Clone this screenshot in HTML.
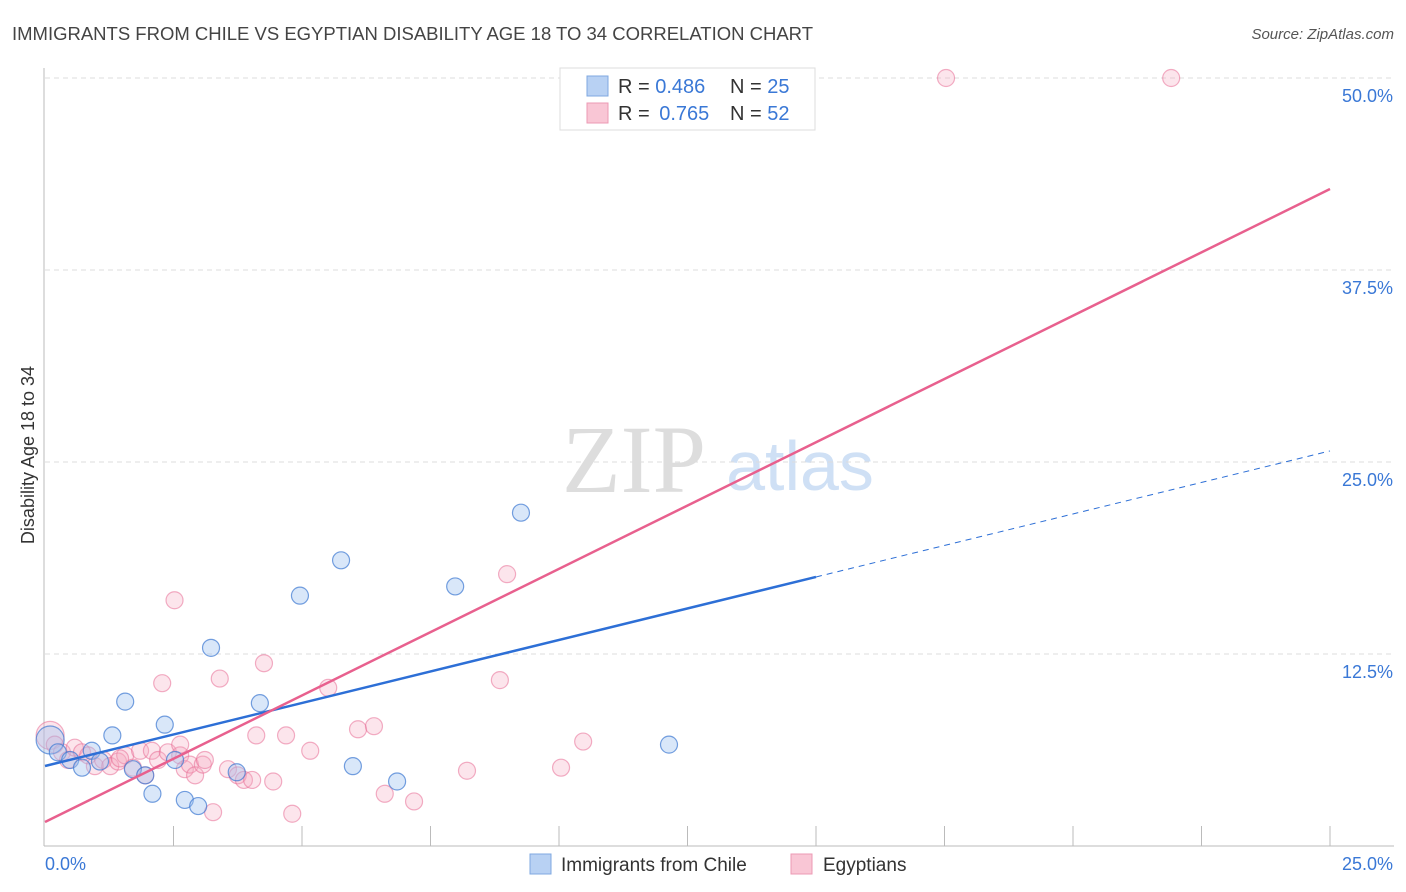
<!DOCTYPE html>
<html><head><meta charset="utf-8"><style>
body{margin:0;background:#fff;font-family:"Liberation Sans",sans-serif;}
svg{display:block}
</style></head><body>
<svg id="c" width="1406" height="892">
<text x="12" y="40" font-size="18.5" fill="#444" textLength="801">IMMIGRANTS FROM CHILE VS EGYPTIAN DISABILITY AGE 18 TO 34 CORRELATION CHART</text>
<text x="1394" y="39" font-size="15" fill="#555" font-style="italic" text-anchor="end">Source: ZipAtlas.com</text>
<text x="634" y="492" font-size="96" fill="#ddd" font-family="Liberation Serif,serif" text-anchor="middle">ZIP</text>
<text x="800" y="490" font-size="70" fill="#cfe0f5" text-anchor="middle">atlas</text>
<text transform="translate(34,455) rotate(-90)" font-size="18" fill="#333" text-anchor="middle">Disability Age 18 to 34</text>
<g id="grid"></g><g id="pts"></g><g id="lines"></g>
<text x="45" y="870" font-size="18" fill="#3a78d6">0.0%</text>
<text x="1393" y="870" font-size="18" fill="#3a78d6" text-anchor="end">25.0%</text>
<g>
<rect x="560" y="68" width="255" height="62" fill="#fff" stroke="#ddd"/>
<rect x="587" y="76" width="21" height="20" fill="#b8d1f3" stroke="#7fa8e0"/>
<rect x="587" y="103" width="21" height="20" fill="#f9c6d5" stroke="#ec9ab4"/>
<text x="618" y="93" font-size="20" fill="#333">R = <tspan fill="#3a78d6">0.486</tspan><tspan x="730">N = </tspan><tspan fill="#3a78d6">25</tspan></text>
<text x="618" y="120" font-size="20" fill="#333">R = <tspan fill="#3a78d6" dx="4">0.765</tspan><tspan x="730">N = </tspan><tspan fill="#3a78d6">52</tspan></text>
</g>
<g>
<rect x="530" y="854" width="21" height="20" fill="#b8d1f3" stroke="#7fa8e0"/>
<text x="561" y="871" font-size="19" fill="#333">Immigrants from Chile</text>
<rect x="791" y="854" width="21" height="20" fill="#f9c6d5" stroke="#ec9ab4"/>
<text x="823" y="871" font-size="19" fill="#333">Egyptians</text>
</g>
</svg>
<script>
const yTicks=[12.5,25,37.5,50];
const blueX=[0.1,0.25,0.49,0.72,0.91,1.07,1.31,1.56,1.71,1.95,2.09,2.33,2.53,2.72,2.98,3.23,3.73,4.18,4.96,5.76,5.99,6.85,7.98,9.26,12.14];
const blueY=[6.9,6.1,5.6,5.1,6.2,5.5,7.2,9.4,5.0,4.6,3.4,7.9,5.6,3.0,2.6,12.9,4.8,9.3,16.3,18.6,5.2,4.2,16.9,21.7,6.6];
const pinkX=[0.1,0.19,0.33,0.45,0.58,0.72,0.84,0.97,1.13,1.27,1.42,1.56,1.71,1.85,1.95,2.08,2.2,2.28,2.39,2.52,2.63,2.72,2.82,2.92,3.07,3.11,3.27,3.4,3.56,3.75,3.87,4.03,4.11,4.26,4.44,4.69,4.81,5.16,5.51,6.09,6.4,6.61,7.18,8.21,8.85,8.99,10.04,10.47,17.53,21.91,1.46,2.63];
const pinkY=[7.2,6.6,6.1,5.6,6.4,6.1,5.9,5.2,5.6,5.2,5.5,5.9,5.1,6.2,4.6,6.2,5.6,10.6,6.1,16.0,5.9,5.0,5.3,4.6,5.3,5.6,2.2,10.9,5.0,4.6,4.3,4.3,7.2,11.9,4.2,7.2,2.1,6.2,10.3,7.6,7.8,3.4,2.9,4.9,10.8,17.7,5.1,6.8,50.0,50.0,5.7,6.6];
const blueFit=[5.21,25.72]; const pinkFit=[1.56,42.77];
const X=v=>45+v/25*1285, Y=v=>846-v/12.5*192;
const NS='http://www.w3.org/2000/svg';
function mk(t,a,p){const e=document.createElementNS(NS,t);for(const k in a)e.setAttribute(k,a[k]);p.appendChild(e);return e;}
const g=document.getElementById('grid');
mk('line',{x1:44,y1:68,x2:44,y2:846,stroke:'#bbb'},g);
mk('line',{x1:44,y1:846,x2:1394,y2:846,stroke:'#bbb'},g);
for(let i=1;i<=10;i++){const t=mk('line',{x1:45+i*128.5,y1:826,x2:45+i*128.5,y2:846,stroke:'#bbb'},g);

}
yTicks.forEach(v=>{const l=mk('line',{x1:45,y1:Y(v),x2:1394,y2:Y(v),stroke:'#ddd','stroke-dasharray':'5,4'},g);


const t=mk('text',{x:1393,y:Y(v)+24,'font-size':18,fill:'#3a78d6','text-anchor':'end'},g);t.textContent=v.toFixed(1)+'%';

});
const p=document.getElementById('pts');
pinkX.forEach((x,i)=>{const c=mk('circle',{cx:X(x),cy:Y(pinkY[i]),r:i==0?14:8.5,fill:'rgba(246,168,192,0.3)',stroke:'rgba(232,110,150,0.55)','stroke-width':1.2},p);

});
blueX.forEach((x,i)=>{const c=mk('circle',{cx:X(x),cy:Y(blueY[i]),r:i==0?14:8.5,fill:'rgba(160,195,240,0.4)',stroke:'rgba(60,120,210,0.7)','stroke-width':1.2},p);

});
const L=document.getElementById('lines');
const bAt=x=>blueFit[0]+(blueFit[1]-blueFit[0])*x/25;
let a=mk('line',{x1:X(0),y1:Y(bAt(0)),x2:X(15),y2:Y(bAt(15)),stroke:'#2d6fd6','stroke-width':2.5},L);


a=mk('line',{x1:X(15),y1:Y(bAt(15)),x2:X(25),y2:Y(bAt(25)),stroke:'#2d6fd6','stroke-width':1,'stroke-dasharray':'6,5'},L);


a=mk('line',{x1:X(0),y1:Y(pinkFit[0]),x2:X(25),y2:Y(pinkFit[1]),stroke:'#e8608e','stroke-width':2.5},L);


</script>
</body></html>
